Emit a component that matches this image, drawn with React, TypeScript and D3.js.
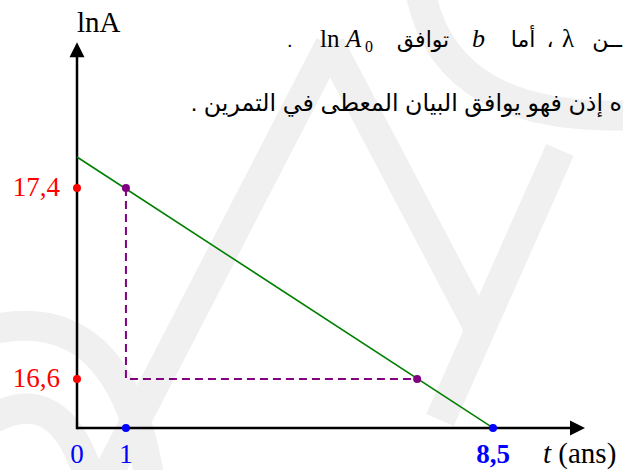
import React from "react";
import * as d3 from "d3";

// values
const tTicks = [0, 1, 8.5];
const tTickLabels = ["0", "1", "8,5"];
const lnATicks = [17.4, 16.6];
const lnATickLabels = ["17,4", "16,6"];
const fitLine = [
  { t: 0, lnA: 17.53 },
  { t: 8.5, lnA: 16.395 },
];
const markedPoints = [
  { t: 1, lnA: 17.4 },
  { t: 6.95, lnA: 16.6 },
];
const axisOrigin = { t: 0, lnA: 16.395 };
const axisEnd = { t: 10.38, lnA: 18.01 };

const arabicLine2 = "ه إذن فهو يوافق البيان المعطى في التمرين .";

const width = 623;
const height = 470;
const serif = "'Liberation Serif', 'Times New Roman', serif";
const arabic = "Arial, 'DejaVu Sans', sans-serif";

// faint watermark strokes behind the figure
const watermark = [
  "M330,45 L105,480",
  "M330,45 L480,330",
  "M420,-10 Q445,125 640,115",
  "M-10,330 Q120,300 150,480",
  "M-10,420 Q60,380 90,480",
  "M560,150 L440,420",
];

export default function App() {
  const x = d3.scaleLinear().domain([0, 8.5]).range([77, 493]);
  const y = d3.scaleLinear().domain([16.6, 17.4]).range([379, 188]);

  const line = d3
    .line<{ t: number; lnA: number }>()
    .x((d) => x(d.t))
    .y((d) => y(d.lnA));

  const x0 = x(axisOrigin.t);
  const y0 = y(axisOrigin.lnA);
  const xEnd = x(axisEnd.t);
  const yEnd = y(axisEnd.lnA);

  const [p1, p2] = markedPoints;

  return (
    <svg
      width={width}
      height={height}
      style={{ position: "absolute", left: 0, top: 0, background: "#fff" }}
    >
      <g fill="none" stroke="#f0f0f0" strokeWidth={30}>
        {watermark.map((d, i) => (
          <path key={i} d={d} />
        ))}
      </g>

      {/* axes */}
      <line x1={x0} y1={y0} x2={xEnd - 12} y2={y0} stroke="#000" strokeWidth={2.5} />
      <path
        d={`M${xEnd},${y0} L${xEnd - 15},${y0 - 7.5} L${xEnd - 15},${y0 + 7.5} Z`}
        fill="#000"
      />
      <line x1={x0} y1={y0 + 1.2} x2={x0} y2={yEnd + 12} stroke="#000" strokeWidth={2.5} />
      <path
        d={`M${x0},${yEnd} L${x0 - 7.5},${yEnd + 15} L${x0 + 7.5},${yEnd + 15} Z`}
        fill="#000"
      />

      {/* construction lines */}
      <path
        d={`M${x(p1.t)},${y(p1.lnA)} L${x(p1.t)},${y(p2.lnA)} L${x(p2.t)},${y(p2.lnA)}`}
        fill="none"
        stroke="#800080"
        strokeWidth={2}
        strokeDasharray="8,5"
      />

      {/* fitted line */}
      <path d={line(fitLine) || ""} fill="none" stroke="#008000" strokeWidth={1.6} />

      {markedPoints.map((d, i) => (
        <circle key={i} cx={x(d.t)} cy={y(d.lnA)} r={4} fill="#800080" />
      ))}

      {/* lnA ticks */}
      {lnATicks.map((v, i) => (
        <g key={v}>
          <circle cx={x0} cy={y(v)} r={4} fill="#ff0000" />
          <text
            x={x0 - 17}
            y={y(v) + 8}
            textAnchor="end"
            fontFamily={serif}
            fontSize={27}
            fill="#ff0000"
          >
            {lnATickLabels[i]}
          </text>
        </g>
      ))}

      {/* t ticks */}
      {tTicks.map((v, i) => (
        <g key={v}>
          {v !== 0 && <circle cx={x(v)} cy={y0} r={4} fill="#0000ff" />}
          <text
            x={x(v)}
            y={y0 + 35}
            textAnchor="middle"
            fontFamily={serif}
            fontSize={27}
            fontWeight={v === 8.5 ? "bold" : "normal"}
            fill="#0000ff"
          >
            {tTickLabels[i]}
          </text>
        </g>
      ))}

      {/* axis titles */}
      <text x={x0} y={32} fontFamily={serif} fontSize={29} fill="#000">
        lnA
      </text>
      <text x={543} y={y0 + 35} fontFamily={serif} fontSize={29} fill="#000">
        <tspan fontStyle="italic">t</tspan> (ans)
      </text>

      {/* text lines above the chart */}
      <g fill="#000">
        <text x={287} y={47} fontFamily={arabic} fontSize={20}>.</text>
        <text x={320} y={47} fontFamily={serif} fontSize={25}>ln</text>
        <text x={346} y={47} fontFamily={serif} fontSize={25} fontStyle="italic">A</text>
        <text x={365} y={52} fontFamily={serif} fontSize={16}>0</text>
        <text x={423} y={47} fontFamily={arabic} fontSize={22} textAnchor="middle">توافق</text>
        <text x={472} y={47} fontFamily={serif} fontSize={26} fontStyle="italic">b</text>
        <text x={523} y={47} fontFamily={arabic} fontSize={22} textAnchor="middle">أما</text>
        <text x={550} y={47} fontFamily={arabic} fontSize={22} textAnchor="middle">،</text>
        <text x={562} y={47} fontFamily={serif} fontSize={25}>λ</text>
        <text x={622} y={47} fontFamily={arabic} fontSize={22} direction="rtl" textAnchor="start">ــن</text>
        <text x={622} y={111} fontFamily={arabic} fontSize={23.7} direction="rtl" textAnchor="start">
          {arabicLine2}
        </text>
      </g>
    </svg>
  );
}
